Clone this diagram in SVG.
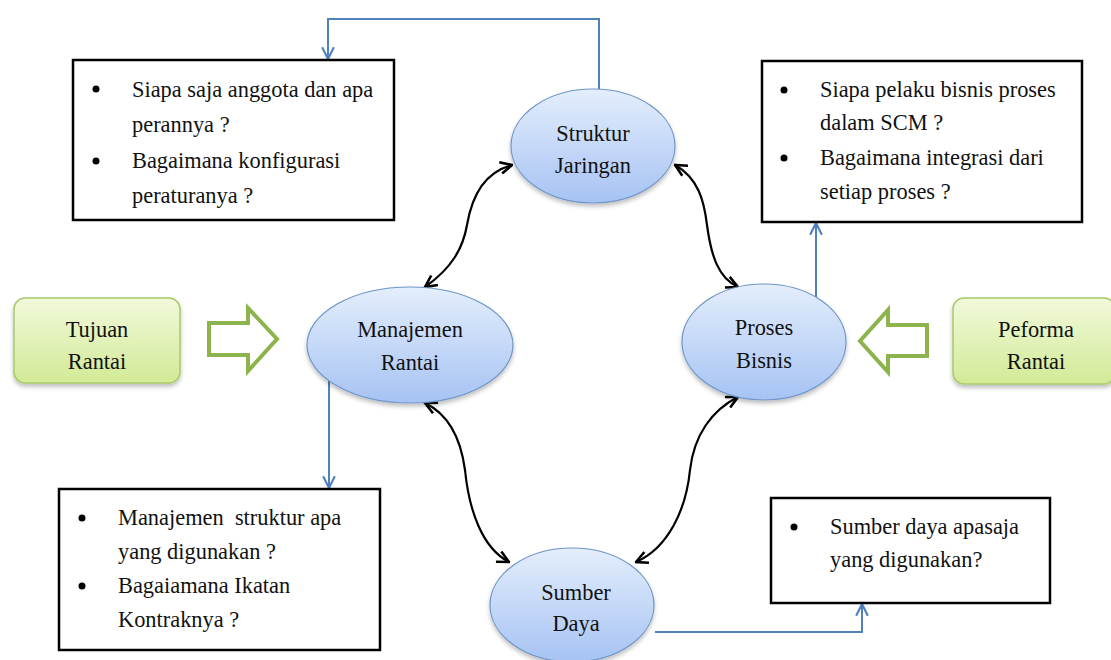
<svg xmlns="http://www.w3.org/2000/svg" width="1111" height="660" viewBox="0 0 1111 660">
<defs>
<linearGradient id="gBlue" x1="0" y1="0" x2="0" y2="1">
<stop offset="0" stop-color="#e4eefc"/>
<stop offset="1" stop-color="#a6c3f3"/>
</linearGradient>
<linearGradient id="gGreen" x1="0" y1="0" x2="0" y2="1">
<stop offset="0" stop-color="#f2f9dc"/>
<stop offset="1" stop-color="#d2ea96"/>
</linearGradient>
<filter id="sh" x="-20%" y="-20%" width="140%" height="150%">
<feDropShadow dx="0" dy="3" stdDeviation="2" flood-color="#000" flood-opacity="0.25"/>
</filter>
<marker id="ab" viewBox="0 0 12 12" refX="11" refY="6" markerWidth="14" markerHeight="14" markerUnits="userSpaceOnUse" orient="auto-start-reverse">
<path d="M1,1 L11,6 L1,11" fill="none" stroke="#000" stroke-width="2.2"/>
</marker>
<marker id="abl" viewBox="0 0 12 12" refX="11" refY="6" markerWidth="14" markerHeight="14" markerUnits="userSpaceOnUse" orient="auto">
<path d="M1,1 L11,6 L1,11" fill="none" stroke="#4f81bd" stroke-width="1.8"/>
</marker>
</defs>
<style>
.t{font-family:'Liberation Serif','DejaVu Serif',serif;font-size:22.4px;fill:#111;}
.c{text-anchor:middle;}
.ell{fill:url(#gBlue);stroke:#6f95c8;stroke-width:1.2;filter:url(#sh);}
.gbox{fill:url(#gGreen);stroke:#a9c96a;stroke-width:1.5;filter:url(#sh);}
.box{fill:#fff;stroke:#000;stroke-width:2.5;}
.harrow{fill:#fff;stroke:#8cb34c;stroke-width:4;stroke-linejoin:miter;}
.bl{fill:none;stroke:#4f81bd;stroke-width:2;marker-end:url(#abl);}
.bk{fill:none;stroke:#000;stroke-width:2.2;marker-start:url(#ab);marker-end:url(#ab);}
</style>
<rect width="1111" height="660" fill="#fff"/>

<g id="connectors">
<path class="bl" d="M599,89 L599,19 L328,19 L328,59"/>
<path class="bl" d="M329,381 L329,488"/>
<path class="bl" d="M816,297 L816,223"/>
<path class="bl" d="M655,632 L862,632 L862,604"/>
<path class="bk" d="M425,287 C452,268 463,248 467,225 C472,195 485,172 512,165"/>
<path class="bk" d="M675,165 C698,178 704,200 707,225 C711,255 718,278 738,287"/>
<path class="bk" d="M425,403 C450,415 461,440 465,470 C469,510 482,548 509,562"/>
<path class="bk" d="M738,397 C712,410 694,435 690,470 C686,510 668,548 636,562"/>
<path class="harrow" d="M209,323 L248,323 L248,308 L277,339 L248,371 L248,355 L209,355 Z"/>
<path class="harrow" d="M927,325 L888,325 L888,310 L860,341 L888,372 L888,356 L927,356 Z"/>
</g>

<g id="node-struktur">
<ellipse class="ell" cx="593" cy="146" rx="82" ry="57"/>
<text class="t c" x="593" y="141">Struktur</text>
<text class="t c" x="593" y="173">Jaringan</text>
</g>
<g id="node-manajemen">
<ellipse class="ell" cx="410" cy="345" rx="103" ry="58"/>
<text class="t c" x="410" y="337">Manajemen</text>
<text class="t c" x="410" y="370">Rantai</text>
</g>
<g id="node-proses">
<ellipse class="ell" cx="764" cy="342" rx="82" ry="58"/>
<text class="t c" x="764" y="335">Proses</text>
<text class="t c" x="764" y="368">Bisnis</text>
</g>
<g id="node-sumber">
<ellipse class="ell" cx="572" cy="605" rx="82" ry="57"/>
<text class="t c" x="576" y="600">Sumber</text>
<text class="t c" x="576" y="631">Daya</text>
</g>
<g id="node-tujuan">
<rect class="gbox" x="14" y="298" width="166" height="85" rx="11"/>
<text class="t c" x="97" y="337">Tujuan</text>
<text class="t c" x="97" y="369">Rantai</text>
</g>
<g id="node-peforma">
<rect class="gbox" x="953" y="298" width="162" height="86" rx="11"/>
<text class="t c" x="1036" y="337">Peforma</text>
<text class="t c" x="1036" y="369">Rantai</text>
</g>

<g id="box-struktur">
<rect class="box" x="73" y="60" width="321" height="160"/>
<circle cx="96" cy="89" r="3.5" fill="#000"/>
<circle cx="96" cy="161" r="3.5" fill="#000"/>
<text class="t" x="132" y="97">Siapa saja anggota dan apa</text>
<text class="t" x="132" y="132">perannya ?</text>
<text class="t" x="132" y="168">Bagaimana konfigurasi</text>
<text class="t" x="132" y="203">peraturanya ?</text>
</g>
<g id="box-proses">
<rect class="box" x="762" y="61" width="320" height="161"/>
<circle cx="784" cy="90" r="3.5" fill="#000"/>
<circle cx="784" cy="158" r="3.5" fill="#000"/>
<text class="t" x="820" y="97">Siapa pelaku bisnis proses</text>
<text class="t" x="820" y="130">dalam SCM ?</text>
<text class="t" x="820" y="165">Bagaimana integrasi dari</text>
<text class="t" x="820" y="199">setiap proses ?</text>
</g>
<g id="box-manajemen">
<rect class="box" x="59" y="489" width="321" height="161"/>
<circle cx="82" cy="518" r="3.5" fill="#000"/>
<circle cx="82" cy="586" r="3.5" fill="#000"/>
<text class="t" x="118" y="525" xml:space="preserve">Manajemen  struktur apa</text>
<text class="t" x="118" y="559">yang digunakan ?</text>
<text class="t" x="118" y="593">Bagaiamana Ikatan</text>
<text class="t" x="118" y="627">Kontraknya ?</text>
</g>
<g id="box-sumber">
<rect class="box" x="771" y="498" width="279" height="105"/>
<circle cx="794" cy="527" r="3.5" fill="#000"/>
<text class="t" x="830" y="534">Sumber daya apasaja</text>
<text class="t" x="830" y="567">yang digunakan?</text>
</g>
</svg>
